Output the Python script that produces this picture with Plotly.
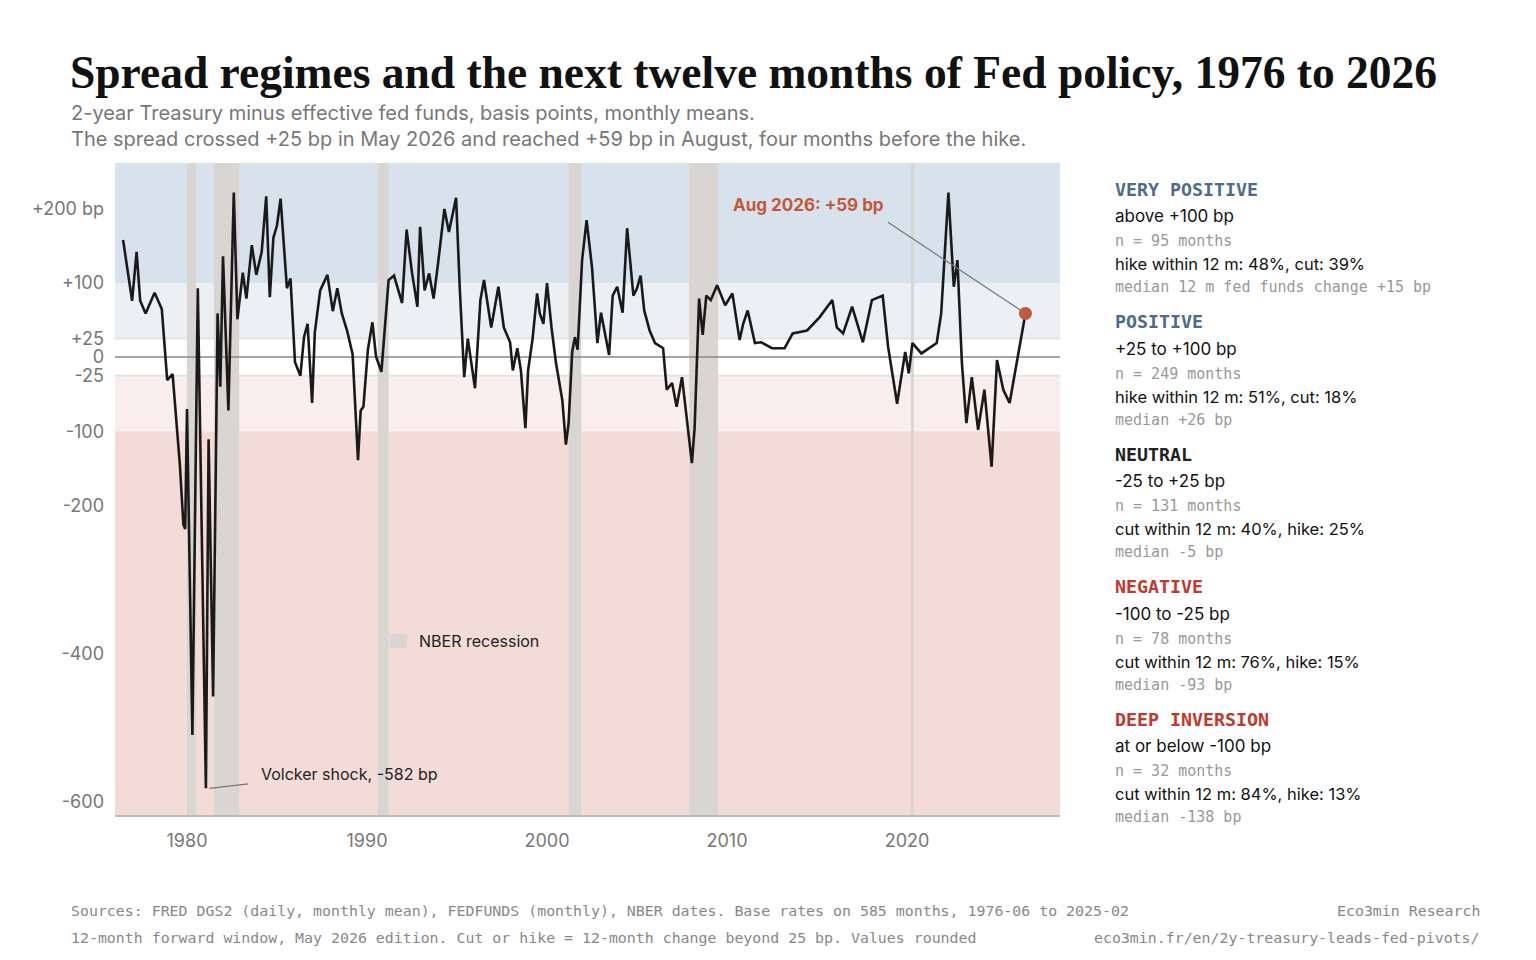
import plotly.graph_objects as go

# decimal year, spread in bp
years = [1976.45,1976.95,1977.2,1977.4,1977.7,1978.2,1978.6,1978.9,1979.2,1979.45,1979.6,1979.8,1979.9,
 1980.0,1980.3,1980.6,1981.05,1981.2,1981.45,1981.7,1981.85,1982.0,1982.3,1982.6,1982.8,1983.1,1983.3,1983.6,1983.85,
 1984.15,1984.4,1984.6,1984.8,1985.0,1985.2,1985.55,1985.75,1986.0,1986.3,1986.5,1986.7,1986.95,1987.1,1987.4,1987.8,
 1988.1,1988.35,1988.6,1988.9,1989.2,1989.5,1989.65,1989.8,1990.05,1990.3,1990.5,1990.8,1991.2,1991.5,1991.95,1992.2,
 1992.5,1992.8,1992.95,1993.2,1993.45,1993.7,1993.95,1994.3,1994.55,1994.8,1994.95,1995.15,1995.4,1995.6,1996.0,1996.3,
 1996.5,1996.9,1997.3,1997.6,1997.95,1998.1,1998.35,1998.55,1998.8,1998.95,1999.2,1999.45,1999.6,1999.8,2000.0,2000.25,
 2000.5,2000.85,2001.05,2001.2,2001.4,2001.55,2001.7,2001.95,2002.2,2002.5,2002.8,2003.0,2003.2,2003.45,2003.65,2003.9,
 2004.2,2004.45,2004.8,2005.0,2005.2,2005.4,2005.7,2006.0,2006.45,2006.65,2006.95,2007.2,2007.5,2007.8,2008.05,2008.2,
 2008.45,2008.65,2008.85,2009.1,2009.45,2009.9,2010.3,2010.7,2010.9,2011.15,2011.55,2011.9,2012.5,2013.2,2013.65,2014.45,
 2015.15,2015.85,2016.1,2016.45,2016.95,2017.55,2018.05,2018.65,2018.95,2019.45,2019.9,2020.1,2020.3,2020.8,2021.65,2021.9,
 2022.3,2022.6,2022.8,2023.05,2023.3,2023.6,2023.95,2024.3,2024.7,2025.0,2025.35,2025.7,2026.1,2026.58]
spread = [158,76,142,76,59,87,65,-31,-23,-100,-144,-226,-232,
 -70,-510,93,-582,-111,-458,59,-40,136,-72,222,51,114,79,151,111,
 142,217,81,161,178,214,93,106,-7,-25,27,45,-62,33,90,111,
 62,93,59,35,4,-139,-72,-67,10,47,1,-20,104,110,73,172,
 114,68,176,90,113,79,127,200,169,198,215,95,-27,25,-42,77,
 104,40,95,40,20,-18,12,-18,-96,-18,25,86,59,45,100,40,
 -8,-58,-118,-89,7,27,10,131,185,121,19,60,36,3,83,95,
 60,174,83,93,110,63,36,19,12,-44,-35,-67,-27,-92,-143,-96,
 79,30,83,77,97,70,86,23,45,63,19,20,12,12,32,36,
 54,77,40,32,68,20,77,83,14,-63,7,-22,19,5,19,59,
 222,95,131,-8,-89,-27,-98,-44,-148,-4,-44,-62,-8,59]

recessions = [(1980.0, 1980.5), (1981.5, 1982.9), (1990.6, 1991.2), (2001.2, 2001.9), (2007.9, 2009.5)]
covid_line = 2020.3
bands = [(100, 300, "#d8e2ec"), (25, 100, "#ecf0f5"), (-25, 25, "#ffffff"),
         (-100, -25, "#f9eded"), (-700, -100, "#f3dbd8")]
tickvals = [200, 100, 25, 0, -25, -100, -200, -400, -600]
ticktext = ["+200 bp", "+100", "+25", "0", "-25", "-100", "-200", "-400", "-600"]

XR = [1976.0, 2028.5]
YR = [-618, 262]
OFF = 8  # page body offset

fig = go.Figure()
shapes = []
for lo, hi, c in bands:
    shapes.append(dict(type="rect", xref="paper", x0=0, x1=1, yref="y", y0=lo, y1=hi,
                       fillcolor=c, line_width=0, layer="below"))
for lvl in (25, -25):
    shapes.append(dict(type="line", xref="paper", x0=0, x1=1, y0=lvl, y1=lvl,
                       line=dict(color="#e3e3e3", width=2), layer="below"))
for a, b in recessions:
    shapes.append(dict(type="rect", x0=a, x1=b, yref="paper", y0=0, y1=1,
                       fillcolor="#d9d5d3", line_width=0, layer="below"))
shapes.append(dict(type="line", x0=covid_line, x1=covid_line, yref="paper", y0=0, y1=1,
                   line=dict(color="#d9d5d3", width=3), layer="below"))
shapes.append(dict(type="line", xref="paper", x0=0, x1=1, y0=0, y1=0,
                   line=dict(color="#888888", width=1.5), layer="below"))
# legend swatch
shapes.append(dict(type="rect", xref="paper", yref="paper", x0=(390-115)/945, x1=(407-115)/945,
                   y0=(815-648)/652, y1=(815-634)/652, fillcolor="#d9d5d3", line_width=0))
# annotation leader lines
shapes.append(dict(type="line", x0=2018.94, y0=182, x1=years[-1], y1=spread[-1],
                   line=dict(color="#777777", width=1.2)))
imin = spread.index(min(spread))
shapes.append(dict(type="line", x0=years[imin] + 0.2, y0=spread[imin], x1=1983.4, y1=-576,
                   line=dict(color="#777777", width=1.2)))

fig.add_trace(go.Scatter(x=years, y=spread, mode="lines", line=dict(color="#1a1a1a", width=2.6),
                         hoverinfo="skip"))
fig.add_trace(go.Scatter(x=[years[-1]], y=[spread[-1]], mode="markers",
                         marker=dict(color="#c0593a", size=13), hoverinfo="skip"))

ann = []
ann.append(dict(x=2014.5, y=205, text="<b>Aug 2026: +59 bp</b>", showarrow=False, xanchor="center",
                yanchor="middle", font=dict(color="#c0593a", size=17, family="Inter")))
ann.append(dict(x=1984.0, y=-562, text="Volcker shock, -582 bp", showarrow=False, xanchor="left",
                yanchor="middle", font=dict(color="#222", size=16, family="Inter")))
ann.append(dict(xref="paper", yref="paper", x=(417-115)/945, y=(815-641)/652, text="NBER recession",
                showarrow=False, xanchor="left", yanchor="middle",
                font=dict(color="#222", size=16, family="Inter")))

# title / subtitle
ann.append(dict(xref="paper", yref="paper", x=-(115-68)/945, y=1+(163-72)/652, xanchor="left", yanchor="middle",
                text="<b>Spread regimes and the next twelve months of Fed policy, 1976 to 2026</b>",
                showarrow=False, font=dict(family="Liberation Serif", size=45.5, color="#111")))
ann.append(dict(xref="paper", yref="paper", x=-(115-69)/945, y=1+(163-126)/652, xanchor="left", yanchor="middle",
                text="2-year Treasury minus effective fed funds, basis points, monthly means.<br>"
                     "The spread crossed +25 bp in May 2026 and reached +59 bp in August, four months before the hike.",
                align="left", showarrow=False, font=dict(family="Inter", size=20, color="#777")))

# right panel
panel = [
    ("VERY POSITIVE", "#4f6b8a", "above +100 bp", "n = 95 months", "hike within 12 m: 48%, cut: 39%",
     "median 12 m fed funds change +15 bp"),
    ("POSITIVE", "#4f6b8a", "+25 to +100 bp", "n = 249 months", "hike within 12 m: 51%, cut: 18%", "median +26 bp"),
    ("NEUTRAL", "#222222", "-25 to +25 bp", "n = 131 months", "cut within 12 m: 40%, hike: 25%", "median -5 bp"),
    ("NEGATIVE", "#c0392b", "-100 to -25 bp", "n = 78 months", "cut within 12 m: 76%, hike: 15%", "median -93 bp"),
    ("DEEP INVERSION", "#c0392b", "at or below -100 bp", "n = 32 months", "cut within 12 m: 84%, hike: 13%",
     "median -138 bp"),
]
def py(p):
    return (815 - p) / 652
px = (1113 - 115) / 945
for i, (h, c, r, n, s, m) in enumerate(panel):
    y0 = 189 + i * 132.5
    ann.append(dict(xref="paper", yref="paper", x=px, y=py(y0), xanchor="left", yanchor="middle", showarrow=False,
                    text=f"<b>{h}</b>", font=dict(family="DejaVu Sans Mono", size=18.3, color=c)))
    ann.append(dict(xref="paper", yref="paper", x=px, y=py(y0 + 27), xanchor="left", yanchor="middle", showarrow=False,
                    text=r, font=dict(family="Inter", size=17, color="#111")))
    ann.append(dict(xref="paper", yref="paper", x=px, y=py(y0 + 52), xanchor="left", yanchor="middle", showarrow=False,
                    text=n, font=dict(family="DejaVu Sans Mono", size=15, color="#999")))
    ann.append(dict(xref="paper", yref="paper", x=px, y=py(y0 + 75), xanchor="left", yanchor="middle", showarrow=False,
                    text=s, font=dict(family="Inter", size=16.5, color="#111")))
    ann.append(dict(xref="paper", yref="paper", x=px, y=py(y0 + 98), xanchor="left", yanchor="middle", showarrow=False,
                    text=m, font=dict(family="DejaVu Sans Mono", size=15, color="#999")))

# footer
for yy, left, right in [(911, "Sources: FRED DGS2 (daily, monthly mean), FEDFUNDS (monthly), NBER dates. Base rates on 585 months, 1976-06 to 2025-02", "Eco3min Research"),
                        (938, "12-month forward window, May 2026 edition. Cut or hike = 12-month change beyond 25 bp. Values rounded", "eco3min.fr/en/2y-treasury-leads-fed-pivots/")]:
    ann.append(dict(xref="paper", yref="paper", x=-(115-69)/945, y=py(yy), xanchor="left", yanchor="middle",
                    showarrow=False, text=left, font=dict(family="DejaVu Sans Mono", size=14.9, color="#888")))
    ann.append(dict(xref="paper", yref="paper", x=(1482-115)/945, y=py(yy), xanchor="right", yanchor="middle",
                    showarrow=False, text=right, font=dict(family="DejaVu Sans Mono", size=14.9, color="#888")))

fig.update_layout(
    width=1536, height=960, showlegend=False, paper_bgcolor="white", plot_bgcolor="white",
    margin=dict(l=115 - OFF, r=476 + OFF, t=163 - OFF, b=145 + OFF), shapes=shapes, annotations=ann,
    xaxis=dict(range=XR, tickvals=[1980, 1990, 2000, 2010, 2020], showgrid=False, zeroline=False,
               showline=True, linecolor="#bbbbbb", linewidth=2, ticks="", ticklabelstandoff=8,
               tickfont=dict(family="Inter", size=18, color="#777")),
    yaxis=dict(range=YR, tickvals=tickvals, ticktext=ticktext, showgrid=False, zeroline=False,
               ticks="", ticklabelstandoff=10, tickfont=dict(family="Inter", size=18, color="#777")),
)
fig.write_html("out.html")
